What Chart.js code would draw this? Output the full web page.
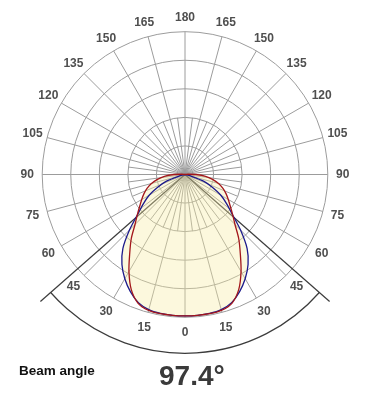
<!DOCTYPE html>
<html>
<head>
<meta charset="utf-8">
<script src="https://cdn.jsdelivr.net/npm/chart.js@4/dist/chart.umd.min.js"></script>
<style>
  html, body { margin: 0; padding: 0; background: #fff; }
  #wrap { position: relative; width: 366px; height: 396px; overflow: hidden; }
  canvas { position: absolute; left: 0; top: 0; }
  .lbl { position: absolute; font-family: "Liberation Sans", Arial, sans-serif; font-weight: bold; white-space: nowrap; }
  #beamLabel { left: 19px; top: 363.5px; font-size: 13.5px; line-height: 13.5px; color: #111; }
  #beamValue { left: 159px; top: 361.5px; font-size: 28px; line-height: 28px; color: #3a3a3a; }
</style>
</head>
<body>
<div id="wrap">
  <canvas id="c" width="366" height="396"></canvas>
  <div class="lbl" id="beamLabel">Beam angle</div>
  <div class="lbl" id="beamValue">97.4°</div>
</div>
<script>
// ---- data (relative intensity, 1 = outer circle) ----
const gammaDeg = [0, 5, 10, 15, 20, 25, 30, 35, 40, 45, 50, 55, 60, 65, 70, 75, 80, 85, 90, 95, 100];
const redValues  = [0.99, 0.99, 0.99, 0.985, 0.96, 0.89, 0.785, 0.675, 0.585, 0.495, 0.435, 0.387, 0.35, 0.317, 0.283, 0.243, 0.196, 0.145, 0.075, 0.02, 0];
const blueValues = [0.99, 0.99, 0.988, 0.98, 0.955, 0.905, 0.843, 0.77, 0.677, 0.55, 0.431, 0.355, 0.29, 0.211, 0.141, 0.04, 0, 0, 0, 0, 0];
const angleTickLabels = ['0', '15', '30', '45', '60', '75', '90', '105', '120', '135', '150', '165', '180'];
const angleTickValues = [0, 15, 30, 45, 60, 75, 90, 105, 120, 135, 150, 165, 180];
const ringValues = [0.2, 0.4, 0.6, 0.8, 1.0];
const beamAngle = 97.4;

// ---- helpers ----
const rad = d => d * Math.PI / 180;
function polarCurve(vals) {
  const left = [], right = [];
  for (let i = gammaDeg.length - 1; i >= 0; i--) {
    const g = rad(gammaDeg[i]), r = vals[i];
    left.push({ x: -r * Math.sin(g), y: -r * Math.cos(g) });
  }
  for (let i = 1; i < gammaDeg.length; i++) {
    const g = rad(gammaDeg[i]), r = vals[i];
    right.push({ x: r * Math.sin(g), y: -r * Math.cos(g) });
  }
  const pts = left.concat(right);
  // drop consecutive duplicates (repeated centre points)
  return pts.filter((p, k) => k === 0 || Math.abs(p.x - pts[k - 1].x) > 1e-9 || Math.abs(p.y - pts[k - 1].y) > 1e-9);
}
const envelopeValues = redValues.map((v, i) => Math.max(v, blueValues[i]));

const PX = 142.8, CX = 185, CY = 174.5, W = 366, H = 396;

const gridPlugin = {
  id: 'polarGrid',
  beforeDatasetsDraw(chart) {
    const { ctx, scales: { x, y } } = chart;
    const cx = x.getPixelForValue(0), cy = y.getPixelForValue(0);
    const unit = x.getPixelForValue(1) - cx;
    ctx.save();
    ctx.strokeStyle = '#9c9c9c';
    ctx.lineWidth = 1;
    // rings
    ringValues.forEach(r => {
      ctx.beginPath();
      ctx.arc(cx, cy, r * unit, 0, Math.PI * 2);
      ctx.stroke();
    });
    // spokes every 15 deg to outer ring, extra every 7.5 deg to ring 0.4
    for (let a = 0; a < 360; a += 7.5) {
      const major = (a % 15) === 0;
      const len = major ? ringValues[ringValues.length - 1] : ringValues[1];
      ctx.beginPath();
      ctx.moveTo(cx, cy);
      ctx.lineTo(x.getPixelForValue(len * Math.sin(rad(a))), y.getPixelForValue(-len * Math.cos(rad(a))));
      ctx.stroke();
    }
    // beam angle lines and arc
    const half = beamAngle / 2;
    ctx.strokeStyle = '#3c3c3c';
    ctx.lineWidth = 1.2;
    [-1, 1].forEach(s => {
      ctx.beginPath();
      ctx.moveTo(cx, cy);
      ctx.lineTo(x.getPixelForValue(s * 1.348 * Math.sin(rad(half))), y.getPixelForValue(-1.348 * Math.cos(rad(half))));
      ctx.stroke();
    });
    ctx.beginPath();
    ctx.arc(cx, cy, 1.252 * unit, Math.PI / 2 - rad(half), Math.PI / 2 + rad(half));
    ctx.stroke();
    ctx.restore();
  },
  afterDraw(chart) {
    const { ctx, scales: { x, y } } = chart;
    ctx.save();
    ctx.font = 'bold 12px "Liberation Sans", Arial, sans-serif';
    ctx.fillStyle = '#4f4f4f';
    ctx.textAlign = 'center';
    ctx.textBaseline = 'middle';
    const lr = 1.105;
    angleTickValues.forEach((g, i) => {
      const sides = (g === 0 || g === 180) ? [1] : [-1, 1];
      sides.forEach(s => {
        const px = x.getPixelForValue(s * lr * Math.sin(rad(g)));
        const py = y.getPixelForValue(-lr * Math.cos(rad(g)));
        ctx.fillText(angleTickLabels[i], px, py + 0.5);
      });
    });
    ctx.restore();
  }
};

new Chart(document.getElementById('c'), {
  type: 'scatter',
  data: {
    datasets: [
      { label: 'C90-C270', data: polarCurve(redValues), showLine: true, borderColor: '#a3161b', borderWidth: 1.3, pointRadius: 0, tension: 0.3, fill: false },
      { label: 'C0-C180', data: polarCurve(blueValues), showLine: true, borderColor: '#1c1a8c', borderWidth: 1.3, pointRadius: 0, tension: 0.3, fill: false },
      { label: 'envelope', data: polarCurve(envelopeValues), showLine: true, borderWidth: 0, borderColor: 'rgba(0,0,0,0)', backgroundColor: 'rgba(246,236,160,0.36)', pointRadius: 0, tension: 0.3, fill: 'shape' }
    ]
  },
  options: {
    responsive: false,
    maintainAspectRatio: false,
    animation: false,
    layout: { padding: 0 },
    plugins: { legend: { display: false }, tooltip: { enabled: false }, title: { display: false } },
    scales: {
      x: { type: 'linear', display: false, min: -CX / PX, max: (W - CX) / PX },
      y: { type: 'linear', display: false, min: -(H - CY) / PX, max: CY / PX }
    }
  },
  plugins: [gridPlugin]
});
</script>
</body>
</html>
